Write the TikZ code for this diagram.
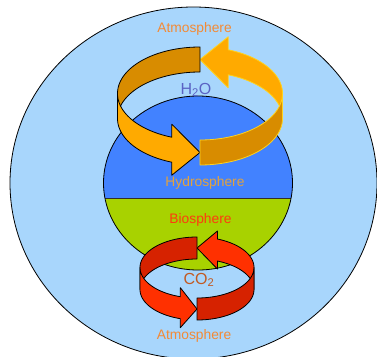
\documentclass[tikz,border=0pt]{standalone}
\usepackage{fontspec}
\setmainfont{Liberation Sans}
\definecolor{skyblue}{HTML}{A8D6FC}
\definecolor{seablue}{HTML}{4282FF}
\definecolor{leafgreen}{HTML}{A8D200}
\definecolor{darkorg}{HTML}{D88C00}
\definecolor{lightorg}{HTML}{FFAA00}
\definecolor{goldline}{HTML}{FFD21E}
\definecolor{darkred}{HTML}{D62200}
\definecolor{lightred}{HTML}{FF3000}
\definecolor{atmotxt}{HTML}{F38A35}
\definecolor{hydrotxt}{HTML}{E2A23E}
\definecolor{biotxt}{HTML}{FF3A10}
\definecolor{htwootxt}{HTML}{5A62C4}
\definecolor{cotwotxt}{HTML}{C25A22}
\def\Rcx{200}\def\Rcy{93.5}\def\Rrx{82.5}\def\Rry{46.5}\def\Rh{25}
\newcommand\ringseg[3]{%
  \filldraw[#3] plot[domain=#1:#2,samples=40] ({\Rcx+\Rrx*cos(\x)},{\Rcy-\Rry*sin(\x)})
   -- plot[domain=#2:#1,samples=40] ({\Rcx+\Rrx*cos(\x)},{\Rcy-\Rry*sin(\x)+\Rh}) -- cycle;}
\newcommand\ringarrow[5]{%
  \filldraw[#5] plot[domain=#1:#2,samples=40] ({\Rcx+\Rrx*cos(\x)},{\Rcy-\Rry*sin(\x)})
   -- ({\Rcx+\Rrx*cos(#2)},{\Rcy-\Rry*sin(#2)-#4})
   -- ({\Rcx+\Rrx*cos(#3)},{\Rcy-\Rry*sin(#3)+\Rh/2})
   -- ({\Rcx+\Rrx*cos(#2)},{\Rcy-\Rry*sin(#2)+\Rh+#4})
   -- plot[domain=#2:#1,samples=40] ({\Rcx+\Rrx*cos(\x)},{\Rcy-\Rry*sin(\x)+\Rh}) -- cycle;}
\tikzset{
  outl/.style={draw=black,line width=0.8pt,line join=round},
  goldl/.style={draw=goldline,line width=0.8pt,line join=round},
  lbl/.style={inner sep=0pt,font=\fontsize{13.8}{16}\selectfont},
  chem/.style={inner sep=0pt,font=\fontsize{16}{19}\selectfont}
}
\begin{document}
\begin{tikzpicture}[x=1pt,y=-1pt]
\useasboundingbox (0,0) rectangle (377,356);
\clip (0,0) rectangle (377,356);
% outer atmosphere
\filldraw[fill=skyblue,draw=black,line width=0.8pt] (193.5,183) ellipse [x radius=183.5,y radius=176];
% inner sphere
\begin{scope}
  \clip (198,183) ellipse [x radius=94.5,y radius=87];
  \fill[seablue] (90,90) rectangle (310,198);
  \fill[leafgreen] (90,198) rectangle (310,280);
  \draw[line width=0.8pt,black!85!olive] (100,198) -- (296,198);
\end{scope}
\draw[line width=0.8pt] (198,183) ellipse [x radius=94.5,y radius=87];
% labels
\node[lbl,text=atmotxt] (atmtop) at (194.5,29) {Atmosphere};
\node[lbl,text=hydrotxt] (hydro) at (205,182.5) {Hydrosphere};
\node[lbl,text=biotxt] (bio) at (200.5,219.5) {Biosphere};
\node[lbl,text=atmotxt] (atmbot) at (194,336) {Atmosphere};
\node[chem,text=htwootxt] (htwoo) at (196,90) {H\textsubscript{2}O};
% water cycle ring
\ringarrow{0}{70}{90}{13}{fill=lightorg,goldl}
\ringseg{90}{180}{fill=darkorg,outl}
\ringarrow{180}{250}{270}{13}{fill=lightorg,outl}
\ringseg{270}{360}{fill=darkorg,goldl}
% carbon cycle ring
\def\Rcx{197}\def\Rcy{267.5}\def\Rrx{57}\def\Rry{30.5}\def\Rh{22}
\ringarrow{0}{69}{90}{8}{fill=lightred,outl}
\ringseg{90}{180}{fill=darkred,outl}
\ringarrow{180}{253}{270}{9}{fill=lightred,outl}
\ringseg{270}{360}{fill=darkred,outl}
\node[chem,text=cotwotxt] (cotwo) at (199,280) {CO\textsubscript{2}};
\end{tikzpicture}
\end{document}
